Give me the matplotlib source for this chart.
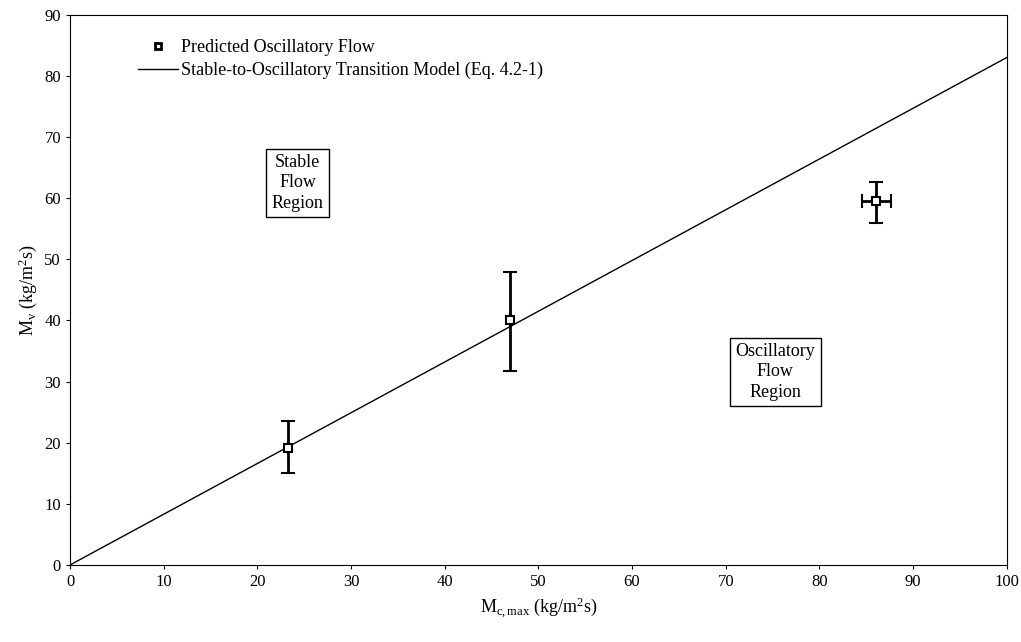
import matplotlib
matplotlib.use('Agg')
import matplotlib.pyplot as plt
from matplotlib.lines import Line2D
import numpy as np

plt.rcParams['font.family'] = ['Liberation Serif', 'DejaVu Serif']
plt.rcParams['mathtext.fontset'] = 'custom'
plt.rcParams['mathtext.rm'] = 'Liberation Serif'
plt.rcParams['mathtext.it'] = 'Liberation Serif:italic'

# predicted oscillatory flow points
m_c = [23.3, 47.0, 86.0]
m_v = [19.2, 40.0, 59.5]
m_v_lo = [15.0, 31.7, 56.0]
m_v_hi = [23.5, 48.0, 62.7]
m_c_lo = [23.3, 47.0, 84.5]
m_c_hi = [23.3, 47.0, 87.6]

# transition model line
model_x = [0, 100]
model_y = [0, 83]

fig = plt.figure(figsize=(10.21, 6.42), dpi=100)
ax = fig.add_axes([0.0686, 0.12, 0.9174, 0.857])

ax.plot(model_x, model_y, color='black', lw=1.0)

yerr = [np.array(m_v) - np.array(m_v_lo), np.array(m_v_hi) - np.array(m_v)]
xerr = [np.array(m_c) - np.array(m_c_lo), np.array(m_c_hi) - np.array(m_c)]
ax.errorbar(m_c, m_v, yerr=yerr, xerr=xerr, fmt='s', mfc='white', mec='black',
            mew=1.5, ms=6, ecolor='black', elinewidth=2, capsize=5, capthick=2)

ax.set_xlim(0, 100)
ax.set_ylim(0, 90)
ax.set_xticks(range(0, 101, 10))
ax.set_yticks(range(0, 91, 10))
ax.tick_params(direction='out', length=3, labelsize=12)
ax.set_xlabel(r'M$_{\mathrm{c,max}}$ (kg/m$^{\mathrm{2}}$s)', fontsize=13)
ax.set_ylabel(r'M$_{\mathrm{v}}$ (kg/m$^{\mathrm{2}}$s)', fontsize=13)

handles = [Line2D([], [], ls='none', marker='s', ms=5, mfc='white', mec='black', mew=2),
           Line2D([], [], color='black', lw=1.0)]
labels = ['Predicted Oscillatory Flow',
          'Stable-to-Oscillatory Transition Model (Eq. 4.2-1)']
ax.legend(handles, labels, loc='upper left', frameon=False, fontsize=13,
          bbox_to_anchor=(0.061, 0.975), handlelength=2.2, handletextpad=0.2,
          labelspacing=0.3, borderaxespad=0.2)

box = dict(boxstyle='square,pad=0.3', fc='white', ec='black', lw=1)
ax.text(24.3, 62.5, 'Stable\nFlow\nRegion', ha='center', va='center',
        fontsize=13, bbox=box, linespacing=1.25)
ax.text(75.3, 31.6, 'Oscillatory\nFlow\nRegion', ha='center', va='center',
        fontsize=13, bbox=box, linespacing=1.25)

fig.savefig('out.png', dpi=100)
